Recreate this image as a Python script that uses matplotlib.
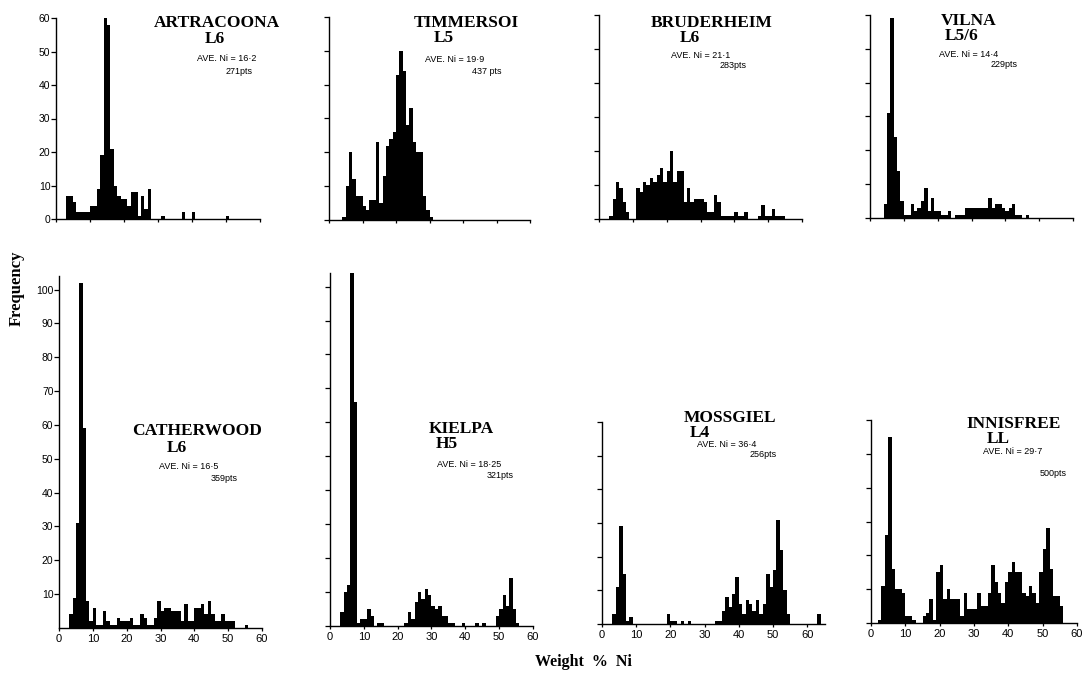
import matplotlib
matplotlib.use("Agg")
import matplotlib.pyplot as plt
from matplotlib import font_manager

# ---------------- data (counts per 1 wt% Ni bin, index = bin left edge) -------------
ni_bins = list(range(0, 66))

artracoona = [0, 0, 0, 7, 7, 5, 2, 2, 2, 2,
              4, 4, 9, 19, 60, 58, 21, 10, 7, 6,
              6, 4, 8, 8, 1, 7, 3, 9, 0, 0,
              0, 1, 0, 0, 0, 0, 0, 2, 0, 0,
              2, 0, 0, 0, 0, 0, 0, 0, 0, 0,
              1, 0, 0, 0, 0, 0, 0, 0, 0, 0]
timmersoi = [0, 0, 0, 0, 1, 10, 20, 12, 7, 7,
             4, 3, 6, 6, 23, 5, 13, 22, 24, 26,
             43, 50, 44, 28, 33, 23, 20, 20, 7, 3,
             1, 0, 0, 0, 0, 0, 0, 0, 0, 0,
             0, 0, 0, 0, 0, 0, 0, 0, 0, 0,
             0, 0, 0, 0, 0, 0, 0, 0, 0, 0]
bruderheim = [0, 0, 0, 1, 6, 11, 9, 5, 2, 0,
              0, 9, 8, 11, 10, 12, 11, 13, 15, 11,
              14, 20, 11, 14, 14, 5, 9, 5, 6, 6,
              6, 5, 2, 2, 7, 5, 1, 1, 1, 1,
              2, 1, 1, 2, 0, 0, 0, 1, 4, 1,
              1, 3, 1, 1, 1, 0, 0, 0, 0, 0]
vilna = [0, 0, 0, 0, 4, 31, 59, 24, 14, 5,
         1, 1, 4, 2, 3, 5, 9, 2, 6, 2,
         2, 1, 1, 2, 0, 1, 1, 1, 3, 3,
         3, 3, 3, 3, 3, 6, 3, 4, 4, 3,
         2, 3, 4, 1, 1, 0, 1, 0, 0, 0,
         0, 0, 0, 0, 0, 0, 0, 0, 0, 0]
catherwood = [0, 0, 0, 4, 9, 31, 102, 59, 8, 2,
              6, 1, 1, 5, 2, 1, 1, 3, 2, 2,
              2, 3, 1, 1, 4, 3, 1, 1, 3, 8,
              5, 6, 6, 5, 5, 5, 2, 7, 2, 2,
              6, 6, 7, 4, 8, 4, 2, 2, 4, 2,
              2, 2, 0, 0, 0, 1, 0, 0, 0, 0]
kielpa = [0, 0, 0, 4, 10, 12, 105, 66, 1, 2,
          2, 5, 3, 0, 1, 1, 0, 0, 0, 0,
          0, 0, 1, 4, 2, 7, 10, 8, 11, 9,
          6, 5, 6, 3, 3, 1, 1, 0, 0, 1,
          0, 0, 0, 1, 0, 1, 0, 0, 0, 3,
          5, 9, 6, 14, 5, 1, 0, 0, 0, 0]
mossgiel = [0, 0, 0, 3, 11, 29, 15, 1, 2, 0,
            0, 0, 0, 0, 0, 0, 0, 0, 0, 3,
            1, 1, 0, 1, 0, 1, 0, 0, 0, 0,
            0, 0, 0, 1, 1, 4, 8, 5, 9, 14,
            6, 3, 7, 6, 4, 7, 3, 6, 15, 11,
            16, 31, 22, 10, 3, 0, 0, 0, 0, 0,
            0, 0, 0, 3, 0, 0]
innisfree = [0, 0, 1, 11, 26, 55, 16, 10, 10, 9,
             2, 2, 1, 0, 0, 2, 3, 7, 1, 15,
             17, 7, 10, 7, 7, 7, 2, 9, 4, 4,
             4, 9, 5, 5, 9, 17, 12, 9, 6, 12,
             15, 18, 15, 15, 9, 8, 11, 9, 6, 15,
             22, 28, 16, 8, 8, 5, 0, 0, 0, 0]

names = ["ARTRACOONA", "TIMMERSOI", "BRUDERHEIM", "VILNA",
         "CATHERWOOD", "KIELPA", "MOSSGIEL", "INNISFREE"]
classes = ["L6", "L5", "L6", "L5/6", "L6", "H5", "L4", "LL"]
ave_ni = ["16·2", "19·9", "21·1", "14·4", "16·5", "18·25", "36·4", "29·7"]
n_points = ["271pts", "437 pts", "283pts", "229pts", "359pts", "321pts", "256pts", "500pts"]
series = [artracoona, timmersoi, bruderheim, vilna, catherwood, kielpa, mossgiel, innisfree]

# ---------------- layout --------------------------------------------------------------
W, H = 1084, 674
available = {f.name for f in font_manager.fontManager.ttflist}
SERIF = "Liberation Serif" if "Liberation Serif" in available else "DejaVu Serif"
SANS = "Liberation Sans" if "Liberation Sans" in available else "DejaVu Sans"
NARROW = "Liberation Sans Narrow" if "Liberation Sans Narrow" in available else SANS

fig = plt.figure(figsize=(W / 100, H / 100), dpi=100)

# axes boxes in pixels: (x at 0, x at right end, x max, y at 0, y at top, y max)
boxes = [
    (56, 260, 60, 219, 18, 60),
    (329, 530, 60, 220, 17, 60),
    (599, 802, 60, 219, 15, 60),
    (870, 1073, 60, 218, 15, 60),
    (59, 262, 60, 628, 276, 104),
    (330, 533, 60, 626, 273, 104),
    (602, 825, 65.2, 624, 422, 60),
    (871, 1077, 60, 623, 420, 60),
]
# text anchors in pixels: title (cx, baseline), class (cx, baseline), ave (left, baseline), pts (right, baseline)
text_pos = [
    ((217, 27), (215, 43), (197, 61), (253, 74)),
    ((466, 27), (444, 42), (425, 62), (502, 74)),
    ((712, 27), (690, 42), (671, 58), (747, 68)),
    ((969, 25), (962, 40), (939, 57), (1018, 67)),
    ((197, 435), (177, 452), (159, 469), (238, 481)),
    ((461, 433), (447, 448), (437, 467), (514, 478)),
    ((730, 422), (700, 437), (697, 447), (777, 457)),
    ((1014, 428), (998, 443), (983, 454), (1067, 476)),
]


def fx(x):
    return x / W


def fy(y):
    return 1 - y / H


for i, (counts, box) in enumerate(zip(series, boxes)):
    x0, x1, xmax, y0, y1, ymax = box
    ax = fig.add_axes([fx(x0), fy(y0), (x1 - x0) / W, (y0 - y1) / H])
    ax.bar(ni_bins[:len(counts)], counts, width=1.0, align="edge",
           color="black", linewidth=0)
    ax.set_xlim(0, xmax)
    ax.set_ylim(0, ymax)
    for s in ("top", "right"):
        ax.spines[s].set_visible(False)
    for s in ("left", "bottom"):
        ax.spines[s].set_linewidth(1.0)
    ax.set_xticks(range(0, 61, 10))
    bottom_row = i >= 4
    if i == 4:
        ax.set_yticks(range(10, 101, 10))
    elif i == 5:
        ax.set_yticks(range(0, 101, 10))
    else:
        ax.set_yticks(range(0, 61, 10))
    ax.tick_params(axis="y", direction="out", length=3.5, width=0.9, pad=0.5,
                   labelsize=7.5, labelleft=(i in (0, 4)))
    ax.tick_params(axis="x", direction="out", length=2.5, width=0.9, pad=1.5,
                   labelsize=8, labelbottom=bottom_row)
    for lab in ax.get_xticklabels() + ax.get_yticklabels():
        lab.set_fontfamily(SANS)

    (tx, ty), (cx, cy), (ax_, ay), (px_, py) = text_pos[i]
    fig.text(fx(tx), fy(ty), names[i], ha="center", va="baseline",
             fontfamily=SERIF, fontweight="bold", fontsize=12.5)
    fig.text(fx(cx), fy(cy), classes[i], ha="center", va="baseline",
             fontfamily=SERIF, fontweight="bold", fontsize=12.5)
    fig.text(fx(ax_), fy(ay), "AVE. Ni = " + ave_ni[i], ha="left", va="baseline",
             fontfamily=NARROW, fontsize=6.5)
    fig.text(fx(px_), fy(py), n_points[i], ha="right", va="baseline",
             fontfamily=NARROW, fontsize=6.5)

fig.text(fx(17), fy(288), "Frequency", rotation=90, ha="center", va="center",
         fontfamily=SERIF, fontweight="bold", fontsize=12)
fig.text(fx(583), fy(662), "Weight  %  Ni", ha="center", va="center",
         fontfamily=SERIF, fontweight="bold", fontsize=11.5)

fig.savefig("out.png", dpi=100, facecolor="white")
